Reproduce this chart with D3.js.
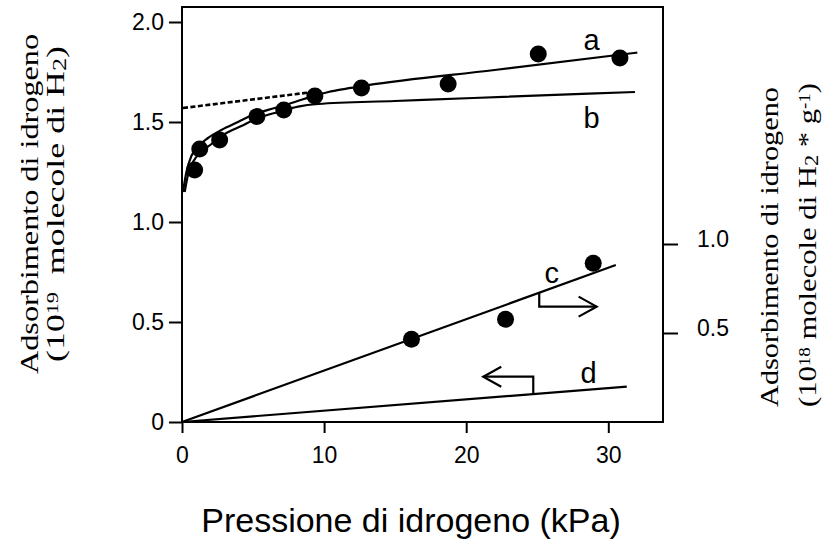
<!DOCTYPE html>
<html>
<head>
<meta charset="utf-8">
<script src="https://cdn.jsdelivr.net/npm/d3@7"></script>
<style>
  body { margin: 0; background: #fff; }
  svg { display: block; }
</style>
</head>
<body>
<div id="chart"></div>
<script>
////////////////////////////// DATA ////////////////////////////////////

// measured points, left axis (10^19 molecole di H2)
const pressureA = [0.89, 1.25, 2.65, 5.27, 7.16, 9.35, 12.63, 18.73, 25.07, 30.82];
const adsorbA = [1.26, 1.365, 1.41, 1.527, 1.56, 1.63, 1.67, 1.69, 1.84, 1.82];

// measured points, right axis (10^18 molecole di H2 * g^-1)
const pressureC = [16.15, 22.77, 28.94];
const adsorbC = [0.465, 0.577, 0.892];

// fitted curves as [kPa, value]
const curveA = [[0.07, 1.15], [0.31, 1.25], [0.66, 1.33], [1.13, 1.377], [1.83, 1.42],
  [2.77, 1.46], [3.94, 1.5], [5.12, 1.54], [6.53, 1.57], [7.94, 1.6], [9.35, 1.632],
  [10.3, 1.65], [11.5, 1.666], [13, 1.683], [22, 1.76], [32.04, 1.847]];
const curveB = [[0.19, 1.15], [0.42, 1.235], [0.77, 1.3], [1.37, 1.35], [2.07, 1.39],
  [3.01, 1.44], [4.18, 1.48], [5.35, 1.52], [6.76, 1.55], [8.17, 1.577], [9.58, 1.59],
  [15, 1.605], [20.5, 1.62], [31.88, 1.65]];
const dashedA = [[0.07, 1.57], [9, 1.648]];
const lineC = [[0, 0], [30.53, 0.882]]; // right axis
const lineD = [[0, 0], [31.3, 0.177]];  // left axis

// axis ticks
const xTicks = [0, 10, 20, 30];
const yTicks = [0, 0.5, 1.0, 1.5, 2.0];
const yRightTicks = [0.5, 1.0];

// curve letters: [label, kPa, value, axis]
const curveLabels = [["a", 28.83, 1.86, "L"], ["b", 28.83, 1.468, "L"],
  ["c", 26.02, 0.779, "R"], ["d", 28.62, 0.195, "L"]];

// axis arrows: [kPa at the line, value of the horizontal leg, kPa of the tip]
const arrowC = [25.14, 0.648, 29.18]; // right axis
const arrowD = [24.72, 0.2265, 21.2]; // left axis

////////////////////////////// SET UP ////////////////////////////////////

const width = 826;
const height = 539;

const sans = "'Liberation Sans', Arial, sans-serif";
const serif = "'Liberation Serif', 'Times New Roman', serif";

const svg = d3
  .select("#chart")
  .append("svg")
  .attr("width", width)
  .attr("height", height);

const x = d3.scaleLinear().domain([0, 33.85]).range([182, 663]);
const y = d3.scaleLinear().domain([0, 2.075]).range([422, 7]);
const yR = d3.scaleLinear().domain([0, 1]).range([422, 244]);

////////////////////////////// AXES ////////////////////////////////////

const xAxis = svg
  .append("g")
  .attr("transform", `translate(0,${y(0)})`)
  .call(d3.axisBottom(x).tickValues(xTicks).tickSize(11).tickPadding(14));

const yAxis = svg
  .append("g")
  .attr("transform", `translate(${x(0)},0)`)
  .call(
    d3
      .axisLeft(y)
      .tickValues(yTicks)
      .tickSize(13)
      .tickPadding(5)
      .tickFormat((d) => (d === 0 ? "0" : d3.format(".1f")(d)))
  );

const yRAxis = svg
  .append("g")
  .attr("transform", `translate(${x(33.85)},0)`)
  .call(
    d3
      .axisRight(yR)
      .tickValues(yRightTicks)
      .tickSize(15)
      .tickPadding(19)
      .tickFormat(d3.format(".1f"))
  );
yRAxis.selectAll("text").attr("dy", "0.1em");

[xAxis, yAxis, yRAxis].forEach((g) => {
  g.select(".domain").remove();
  g.selectAll("line").attr("stroke", "#000").attr("stroke-width", 2);
  g.selectAll("text")
    .attr("fill", "#000")
    .style("font-family", sans)
    .style("font-size", "23px");
});

// box around the plot
svg
  .append("rect")
  .attr("x", x(0))
  .attr("y", y(2.075))
  .attr("width", x(33.85) - x(0))
  .attr("height", y(0) - y(2.075))
  .attr("fill", "none")
  .attr("stroke", "#000")
  .attr("stroke-width", 2);

////////////////////////////// CURVES ////////////////////////////////////

const lineL = d3
  .line()
  .x((d) => x(d[0]))
  .y((d) => y(d[1]))
  .curve(d3.curveMonotoneX);
const lineRight = d3
  .line()
  .x((d) => x(d[0]))
  .y((d) => yR(d[1]));

const plot = svg.append("g").attr("fill", "none").attr("stroke", "#000").attr("stroke-width", 2.2);

plot.append("path").attr("d", lineL(curveB));
plot.append("path").attr("d", lineL(curveA));
plot
  .append("path")
  .attr("d", lineL(dashedA))
  .attr("stroke-width", 2.6)
  .attr("stroke-dasharray", "5,2.5");
plot.append("path").attr("d", lineRight(lineC));
plot.append("path").attr("d", lineL(lineD));

////////////////////////////// POINTS ////////////////////////////////////

svg
  .selectAll(".ptA")
  .data(d3.zip(pressureA, adsorbA))
  .join("circle")
  .attr("class", "ptA")
  .attr("cx", (d) => x(d[0]))
  .attr("cy", (d) => y(d[1]))
  .attr("r", 8.5)
  .attr("fill", "#000");

svg
  .selectAll(".ptC")
  .data(d3.zip(pressureC, adsorbC))
  .join("circle")
  .attr("class", "ptC")
  .attr("cx", (d) => x(d[0]))
  .attr("cy", (d) => yR(d[1]))
  .attr("r", 8.5)
  .attr("fill", "#000");

////////////////////////////// ARROWS + LETTERS ////////////////////////////////

// value of a straight line from the origin at a given pressure
const onLine = (ln, p) => (ln[1][1] * p) / ln[1][0];

function drawArrow(x0, y0, yLeg, xTip) {
  const dir = xTip > x0 ? 1 : -1;
  plot.append("path").attr("d", `M${x0},${y0}V${yLeg}H${xTip}`);
  plot
    .append("path")
    .attr("d", `M${xTip - dir * 18},${yLeg - 10}L${xTip},${yLeg}L${xTip - dir * 18},${yLeg + 10}`);
}

drawArrow(x(arrowC[0]), yR(onLine(lineC, arrowC[0])), yR(arrowC[1]), x(arrowC[2]));
drawArrow(x(arrowD[0]), y(onLine(lineD, arrowD[0])), y(arrowD[1]), x(arrowD[2]));

svg
  .selectAll(".curveLabel")
  .data(curveLabels)
  .join("text")
  .attr("class", "curveLabel")
  .attr("x", (d) => x(d[1]))
  .attr("y", (d) => (d[3] === "R" ? yR(d[2]) : y(d[2])))
  .attr("text-anchor", "middle")
  .style("font-family", sans)
  .style("font-size", "29px")
  .text((d) => d[0]);

////////////////////////////// TITLES ////////////////////////////////////

svg
  .append("text")
  .attr("x", 411)
  .attr("y", 532)
  .attr("text-anchor", "middle")
  .style("font-family", sans)
  .style("font-size", "34px")
  .text("Pressione di idrogeno (kPa)");

function yTitle(cx, cy, parts, len) {
  const t = svg
    .append("text")
    .attr("transform", `translate(${cx},${cy}) rotate(-90)`)
    .attr("text-anchor", "middle")
    .attr("textLength", len)
    .attr("lengthAdjust", "spacingAndGlyphs")
    .style("font-family", serif)
    .style("font-size", "26px")
    .style("white-space", "pre");
  parts.forEach(([s, kind]) => {
    const ts = t.append("tspan").text(s);
    if (kind === "sup") ts.attr("baseline-shift", "35%").style("font-size", "16px");
    if (kind === "sub") ts.attr("baseline-shift", "-2").style("font-size", "19px");
  });
}

yTitle(38, 204, [["Adsorbimento di idrogeno"]], 340);
yTitle(64, 204, [["(10"], ["19", "sup"], ["  molecole di H"], ["2", "sub"], [")"]], 316);
yTitle(778, 247, [["Adsorbimento di idrogeno"]], 320);
yTitle(816, 245, [["(10"], ["18", "sup"], [" molecole di H"], ["2", "sub"], [" * g"], ["-1", "sup"], [")"]], 324);
</script>
</body>
</html>
